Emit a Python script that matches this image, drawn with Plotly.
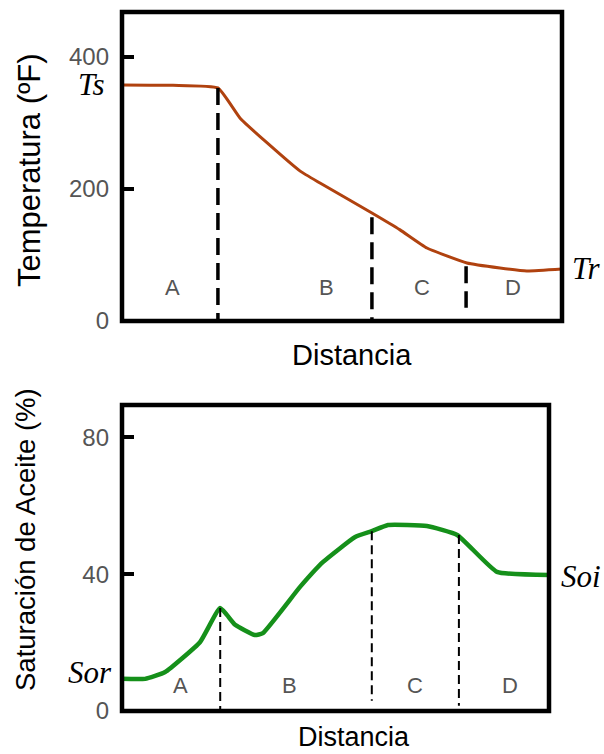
import plotly.graph_objects as go

# ---- Temperature profile along the distance axis ----
temp_dist = [0, 11.6, 21.8, 26.8, 33.0, 40.5, 45.0, 56.8, 63.2, 69.3, 78.4, 85.9, 92.0, 100]
temp_vals = [357.6, 357.0, 353.0, 307.6, 269.7, 227.0, 209.0, 163.6, 138.0, 110.6, 87.9, 80.3, 75.8, 78.8]
temp_ticks = [0, 200, 400]
temp_bounds = [21.8, 56.8, 78.2]
temp_bound_top = [353.0, 157.0, 83.0]
temp_bound_bottom = [0, 0, 20.0]
temp_zone_x = [11.4, 46.4, 68.2, 88.9]
temp_zone_y = [50.0, 50.0, 50.0, 50.0]

# ---- Oil saturation profile ----
sat_dist = [0, 5.4, 10.1, 18.3, 23.0, 26.5, 31.1, 33.0, 41.7, 47.1, 54.6, 58.5, 62.3, 71.4, 78.5, 87.8, 100]
sat_vals = [9.4, 9.4, 11.4, 20.2, 30.1, 25.2, 22.2, 22.8, 36.3, 43.6, 50.9, 52.6, 54.4, 54.1, 51.5, 40.7, 39.8]
sat_ticks = [0, 40, 80]
sat_bounds = [23.0, 58.5, 78.9]
sat_bound_top = [30.1, 52.6, 51.5]
sat_bound_bottom = [0, 3.0, 1.5]
sat_zone_x = [13.8, 39.3, 68.6, 90.9]
sat_zone_y = [7.6, 7.6, 7.6, 7.6]

zones = ["A", "B", "C", "D"]

W, H = 604, 754
SANS = "Liberation Sans, Arial, sans-serif"
SERIF = "Liberation Serif, Times New Roman, serif"
# vertical layout is planned on a 741px grid
GRID_H = 741

def px_x(p):
    return p / W

def px_y(p):
    return 1 - p / GRID_H

fig = go.Figure()

# temperature curve
fig.add_trace(go.Scatter(x=temp_dist, y=temp_vals, mode="lines",
                         line=dict(color="#b0420f", width=3, shape="spline", smoothing=0.4),
                         xaxis="x", yaxis="y", hoverinfo="skip"))
for bx, top, bot in zip(temp_bounds, temp_bound_top, temp_bound_bottom):
    fig.add_trace(go.Scatter(x=[bx, bx], y=[top, bot], mode="lines",
                             line=dict(color="black", width=3.5, dash="17px,8px"),
                             xaxis="x", yaxis="y", hoverinfo="skip"))

# saturation curve
fig.add_trace(go.Scatter(x=sat_dist, y=sat_vals, mode="lines",
                         line=dict(color="#15901a", width=4.5, shape="spline", smoothing=0.4),
                         xaxis="x2", yaxis="y2", hoverinfo="skip"))
for bx, top, bot in zip(sat_bounds, sat_bound_top, sat_bound_bottom):
    fig.add_trace(go.Scatter(x=[bx, bx], y=[top, bot], mode="lines",
                             line=dict(color="black", width=2, dash="9px,5px"),
                             xaxis="x2", yaxis="y2", hoverinfo="skip"))

tick_font = dict(family=SANS, size=24, color="#555555")
yaxis_common = dict(ticks="inside", ticklen=12, tickwidth=4, tickcolor="black",
                    showgrid=False, zeroline=False, showline=False,
                    tickfont=tick_font, ticklabelstandoff=12, fixedrange=True)
xaxis_common = dict(showgrid=False, zeroline=False, showline=False,
                    showticklabels=False, ticks="", fixedrange=True, range=[0, 100])

annotations = []
zone_font = dict(family=SANS, size=22, color="#555555")
for z, zx, zy in zip(zones, temp_zone_x, temp_zone_y):
    annotations.append(dict(x=zx, y=zy, xref="x", yref="y", text=z, showarrow=False,
                            xanchor="center", yanchor="middle", font=zone_font))
for z, zx, zy in zip(zones, sat_zone_x, sat_zone_y):
    annotations.append(dict(x=zx, y=zy, xref="x2", yref="y2", text=z, showarrow=False,
                            xanchor="center", yanchor="middle", font=zone_font))

serif_font = dict(family=SERIF, size=31, color="black")
annotations += [
    dict(x=px_x(106), y=temp_vals[0], xref="paper", yref="y", text="<i>Ts</i>",
         showarrow=False, xanchor="right", yanchor="middle", font=serif_font),
    dict(x=px_x(570), y=temp_vals[-1], xref="paper", yref="y", text="<i>Tr</i>",
         showarrow=False, xanchor="left", yanchor="middle", font=serif_font),
    dict(x=px_x(114), y=sat_vals[0] + 2.0, xref="paper", yref="y2", text="<i>Sor</i>",
         showarrow=False, xanchor="right", yanchor="middle", font=serif_font),
    dict(x=px_x(559), y=sat_vals[-1] - 0.6, xref="paper", yref="y2", text="<i>Soi</i>",
         showarrow=False, xanchor="left", yanchor="middle", font=serif_font),
    dict(x=px_x(352), y=px_y(355), xref="paper", yref="paper", text="Distancia",
         showarrow=False, xanchor="center", yanchor="middle",
         font=dict(family=SANS, size=29, color="black")),
    dict(x=px_x(354), y=px_y(737), xref="paper", yref="paper", text="Distancia",
         showarrow=False, xanchor="center", yanchor="middle",
         font=dict(family=SANS, size=27, color="black")),
    dict(x=px_x(30), y=px_y(170), xref="paper", yref="paper", text="Temperatura (ºF)",
         textangle=-90, showarrow=False, xanchor="center", yanchor="middle",
         font=dict(family=SANS, size=31, color="black")),
    dict(x=px_x(25), y=px_y(540), xref="paper", yref="paper", text="Saturación de Aceite (%)",
         textangle=-90, showarrow=False, xanchor="center", yanchor="middle",
         font=dict(family=SANS, size=27.5, color="black")),
]

shapes = [
    dict(type="rect", xref="x domain", yref="y domain", x0=0, x1=1, y0=0, y1=1,
         line=dict(color="black", width=4.5), layer="above"),
    dict(type="rect", xref="x2 domain", yref="y2 domain", x0=0, x1=1, y0=0, y1=1,
         line=dict(color="black", width=4.5), layer="above"),
]

fig.update_layout(
    width=W, height=H,
    autosize=False,
    margin=dict(l=0, r=0, t=0, b=0, pad=0),
    paper_bgcolor="white", plot_bgcolor="white",
    showlegend=False,
    xaxis=dict(domain=[px_x(122), px_x(562)], anchor="y", **xaxis_common),
    yaxis=dict(domain=[px_y(321), px_y(12)], anchor="x", range=[0, 468],
               tickvals=temp_ticks, ticktext=[str(v) for v in temp_ticks], **yaxis_common),
    xaxis2=dict(domain=[px_x(122), px_x(549)], anchor="y2", **xaxis_common),
    yaxis2=dict(domain=[px_y(711), px_y(405)], anchor="x2", range=[0, 89.5],
                tickvals=sat_ticks, ticktext=[str(v) for v in sat_ticks], **yaxis_common),
    annotations=annotations,
    shapes=shapes,
)

fig.write_html("out.html",
               config={"displayModeBar": False, "responsive": False},
               post_script="document.body.style.margin='0px';")
